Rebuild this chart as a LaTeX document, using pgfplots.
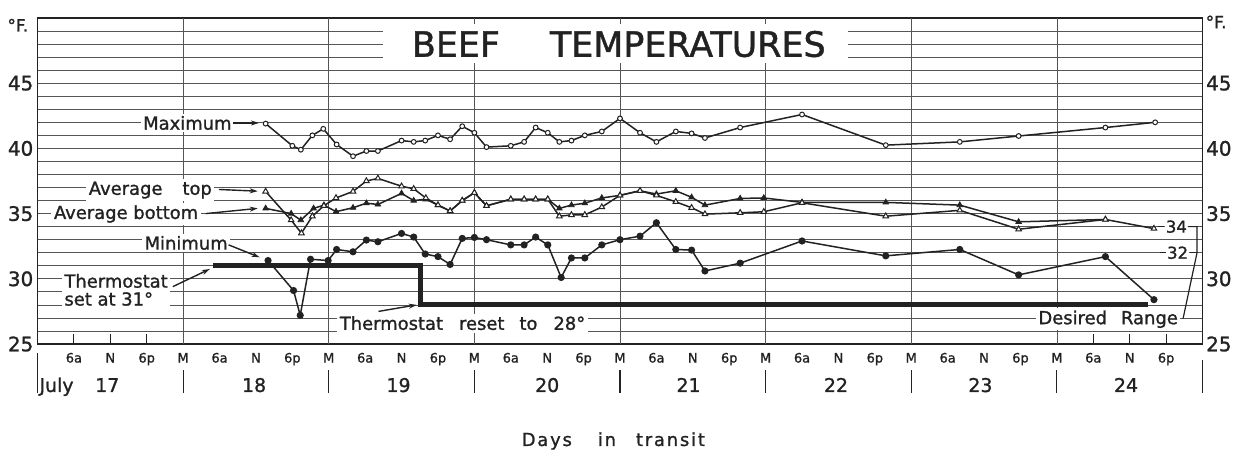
\documentclass[border=0pt]{standalone}
\usepackage{fontspec}
\setmainfont{DejaVu Sans}[FakeBold=1.2]
\usepackage{pgfplots}
\pgfplotsset{compat=1.18}
\usetikzlibrary{arrows.meta}
\definecolor{ink}{HTML}{222222}
\definecolor{gridc}{HTML}{555555}
\newcommand{\fs}[1]{\fontsize{#1}{#1}\selectfont}
\tikzset{arr/.style={-{Stealth[length=8bp,width=5bp]}, ink, line width=1.4bp}}
\begin{document}
\begin{tikzpicture}
\path[use as bounding box] (-37.5bp,-110bp) rectangle (1197.5bp,344bp);
\begin{axis}[
  at={(0,0)}, anchor=south west,
  scale only axis, width=1165bp, height=326bp,
  xmin=0, xmax=192, ymin=25, ymax=50,
  clip=false,
  axis line style={ink, line width=1.2bp},
  major tick length=0pt, minor tick length=0pt,
  xtick={6,12,...,186},
  xticklabels={6a,N,6p,M,6a,N,6p,M,6a,N,6p,M,6a,N,6p,M,6a,N,6p,M,6a,N,6p,M,6a,N,6p,M,6a,N,6p},
  xticklabel style={font=\fs{13}, text=ink, anchor=base, yshift=-18.5bp, inner sep=0pt},
  extra x ticks={24,48,...,168},
  extra x tick labels={,,,,,,},
  extra x tick style={grid=major},
  ytick={25,30,...,45},
  minor ytick={26,...,49},
  ymajorgrids, yminorgrids,
  major grid style={gridc, line width=0.75bp},
  minor grid style={gridc, line width=0.75bp},
  yticklabel style={font=\fs{20}, text=ink, anchor=east, xshift=-4bp, inner sep=0pt},
  /pgf/number format/assume math mode=true,
]
% title box
\fill[white] (axis cs:56.95,46.55) rectangle (axis cs:133.6,49.55);
\node[font=\fs{35}, text=ink, inner sep=0pt] at (axis cs:95.8,48.0) {BEEF\hspace{50bp}TEMPERATURES};

% thermostat setting
\addplot[ink, line width=4.8bp, mark=none, line join=miter] coordinates {(28.9,31) (63.1,31) (63.1,28) (183,28)};

% Maximum
\addplot[ink, line width=1.5bp, mark=*, mark size=2.4bp, mark options={solid, fill=white, draw=ink, line width=1bp}] coordinates {
(37.6,41.9) (42,40.2) (43.4,39.9) (45.3,41.0) (47.1,41.5) (49.3,40.3) (52,39.4) (54.2,39.8) (56.1,39.8) (60,40.6) (62,40.5) (63.9,40.6) (66,41.0) (68,40.7) (70,41.7) (72,41.2) (74,40.1) (78,40.2) (80.2,40.5) (82.1,41.6) (84.1,41.2) (86,40.5) (88,40.6) (90.2,41.0) (93,41.3) (96,42.3) (99.3,41.2) (102,40.5) (105.2,41.3) (107.8,41.15) (110,40.8) (115.8,41.6) (126,42.6) (139.8,40.25) (152,40.5) (161.7,40.95) (176,41.6) (184.2,42.0)};

% Average bottom (filled triangles)
\addplot[ink, line width=1.5bp, mark=triangle*, mark size=3.2bp, mark options={solid, fill=ink, draw=ink, line width=0.8bp}] coordinates {
(37.6,35.4) (41.8,35.0) (43.4,34.5) (45.5,35.4) (47.2,35.65) (49.2,35.15) (52,35.45) (54.2,35.8) (56.1,35.7) (60,36.55) (62,36.0) (64,36.1) (66,35.65) (68,35.2) (70,36.0) (72,36.6) (74,35.6) (78,36.1) (80.2,36.1) (82.1,36.1) (84.1,36.1) (86,35.4) (88,35.65) (90.2,35.8) (93,36.2) (96,36.4) (99.3,36.75) (102,36.5) (105.2,36.75) (107.8,36.25) (110,35.65) (115.8,36.16) (119.7,36.2) (126,35.86) (139.8,35.86) (152,35.65) (161.7,34.37) (176,34.55)};

% Average top (open triangles)
\addplot[ink, line width=1.5bp, mark=triangle*, mark size=3.2bp, mark options={solid, fill=white, draw=ink, line width=1bp}] coordinates {
(37.6,36.7) (41.8,34.5) (43.5,33.5) (45.3,34.8) (47.2,35.6) (49.2,36.2) (52,36.7) (54.2,37.5) (56.1,37.7) (60,37.1) (62,36.9) (64,36.2) (66,35.65) (68,35.2) (70,36.0) (72,36.6) (74,35.6) (78,36.1) (80.2,36.1) (82.1,36.1) (84.1,36.1) (86,34.8) (88,34.9) (90.2,34.9) (93,35.5) (96,36.4) (99.3,36.75) (102,36.4) (105.2,35.9) (107.8,35.45) (110,34.96) (115.8,35.06) (119.7,35.14) (126,35.83) (139.8,34.8) (152,35.25) (161.7,33.8) (176,34.55) (184,33.85)};

% Minimum (filled circles)
\addplot[ink, line width=1.5bp, mark=*, mark size=2.8bp, mark options={solid, fill=ink, draw=ink}] coordinates {
(38,31.4) (42.2,29.1) (43.3,27.2) (45,31.5) (47.9,31.4) (49.3,32.25) (52,32.07) (54.2,32.97) (56.1,32.84) (60,33.48) (62,33.2) (63.9,31.9) (66,31.7) (68,31.1) (70,33.1) (72,33.17) (74,33.0) (78,32.6) (80.2,32.6) (82.1,33.2) (84.1,32.6) (86.3,30.1) (88,31.6) (90.2,31.6) (93,32.6) (96,33.0) (99.3,33.27) (102,34.3) (105.2,32.25) (107.8,32.2) (110,30.6) (115.8,31.2) (126,32.9) (139.8,31.76) (152,32.25) (161.7,30.3) (176,31.7) (184,28.4)};

% annotations
\node[fill=white, inner sep=2.5bp, font=\fs{18}, text=ink] at (axis cs:24.7,41.95) {Maximum};
\draw[arr] (axis cs:32.2,41.95) -- (axis cs:36.5,41.95);
\node[fill=white, inner sep=2.5bp, font=\fs{18}, text=ink] at (axis cs:18.6,36.8) {Average\hspace{20bp}top};
\draw[arr] (axis cs:29.9,36.85) -- (axis cs:36.3,36.72);
\node[fill=white, inner sep=2.5bp, font=\fs{18}, text=ink] at (axis cs:14.6,34.97) {Average bottom};
\draw[arr] (axis cs:27.7,35.0) -- (axis cs:36.3,35.4);
\node[fill=white, inner sep=2.5bp, font=\fs{18}, text=ink] at (axis cs:24.5,32.75) {Minimum};
\draw[arr] (axis cs:31.5,32.6) -- (axis cs:36.6,31.65);
\node[fill=white, inner sep=2.5bp, font=\fs{18}, text=ink, anchor=west, align=left] at (axis cs:4.0,29.15) {Thermostat\\set at 31°};
\draw[arr] (axis cs:22.3,29.4) -- (axis cs:28.4,30.75);
\node[fill=white, inner sep=2.5bp, font=\fs{18}, text=ink] at (axis cs:70.05,26.6) {Thermostat\hspace{16bp}reset\hspace{15bp}to\hspace{16bp}28°};
\draw[arr] (axis cs:56.2,27.5) -- (axis cs:62.5,28.0);
\node[fill=white, inner sep=2.5bp, font=\fs{18}, text=ink] at (axis cs:176.45,26.9) {Desired\hspace{14bp}Range};

% desired range bracket
\draw[ink, line width=1.2bp] (axis cs:184.6,34) -- (axis cs:185.7,34);
\draw[ink, line width=1.2bp] (axis cs:185.0,32) -- (axis cs:186.0,32);
\node[fill=white, inner sep=1bp, font=\fs{16.5}, text=ink] at (axis cs:187.7,34) {34};
\node[fill=white, inner sep=1bp, font=\fs{16.5}, text=ink] at (axis cs:187.9,32) {32};
\draw[ink, line width=1.2bp] (axis cs:189.6,34) -- (axis cs:191.1,34) -- (axis cs:191.1,32) -- (axis cs:188.8,26.95);
\draw[ink, line width=1.2bp] (axis cs:189.9,32) -- (axis cs:191.1,32);

% degree labels
\node[anchor=east, xshift=-9bp, inner sep=0pt, font=\fs{17}, text=ink] at (axis cs:0,49.45) {°F.};
\node[anchor=west, xshift=3bp, inner sep=0pt, font=\fs{17}, text=ink] at (axis cs:192,49.7) {°F.};
\pgfplotsinvokeforeach{25,30,35,40,45}{
  \node[anchor=west, xshift=3.5bp, inner sep=0pt, font=\fs{20}, text=ink] at (axis cs:192,#1) {#1};
}

% small ticks in empty days
\pgfplotsinvokeforeach{6,12,18,174,180,186}{
  \draw[ink, line width=1bp] (axis cs:#1,25) -- (axis cs:#1,25.8);
}

% day separators and labels
\draw[ink, line width=1.2bp] (axis cs:0,24.3) -- (axis cs:0,21.24);
\draw[ink, line width=1.2bp] (axis cs:192,23.77) -- (axis cs:192,21.24);
\pgfplotsinvokeforeach{24,48,72,96,120,144,168}{
  \draw[ink, line width=1.2bp] (axis cs:#1,23.0) -- (axis cs:#1,21.24);
}
\node[anchor=base west, inner sep=0pt, font=\fs{19}, text=ink] at (axis cs:0.3,21.32) {July};
\node[anchor=base, inner sep=0pt, font=\fs{19}, text=ink] at (axis cs:11.5,21.32) {17};
\node[anchor=base, inner sep=0pt, font=\fs{19}, text=ink] at (axis cs:35.7,21.32) {18};
\node[anchor=base, inner sep=0pt, font=\fs{19}, text=ink] at (axis cs:59.5,21.32) {19};
\node[anchor=base, inner sep=0pt, font=\fs{19}, text=ink] at (axis cs:84,21.32) {20};
\node[anchor=base, inner sep=0pt, font=\fs{19}, text=ink] at (axis cs:107.3,21.32) {21};
\node[anchor=base, inner sep=0pt, font=\fs{19}, text=ink] at (axis cs:131.6,21.32) {22};
\node[anchor=base, inner sep=0pt, font=\fs{19}, text=ink] at (axis cs:155.4,21.32) {23};
\node[anchor=base, inner sep=0pt, font=\fs{19}, text=ink] at (axis cs:179.4,21.32) {24};

\node[anchor=base, inner sep=0pt, font=\fs{18}\addfontfeature{LetterSpace=10}, text=ink] at (axis cs:94.9,17.18) {Days\hspace{26bp}in\hspace{20bp}transit};
\end{axis}
\end{tikzpicture}
\end{document}
